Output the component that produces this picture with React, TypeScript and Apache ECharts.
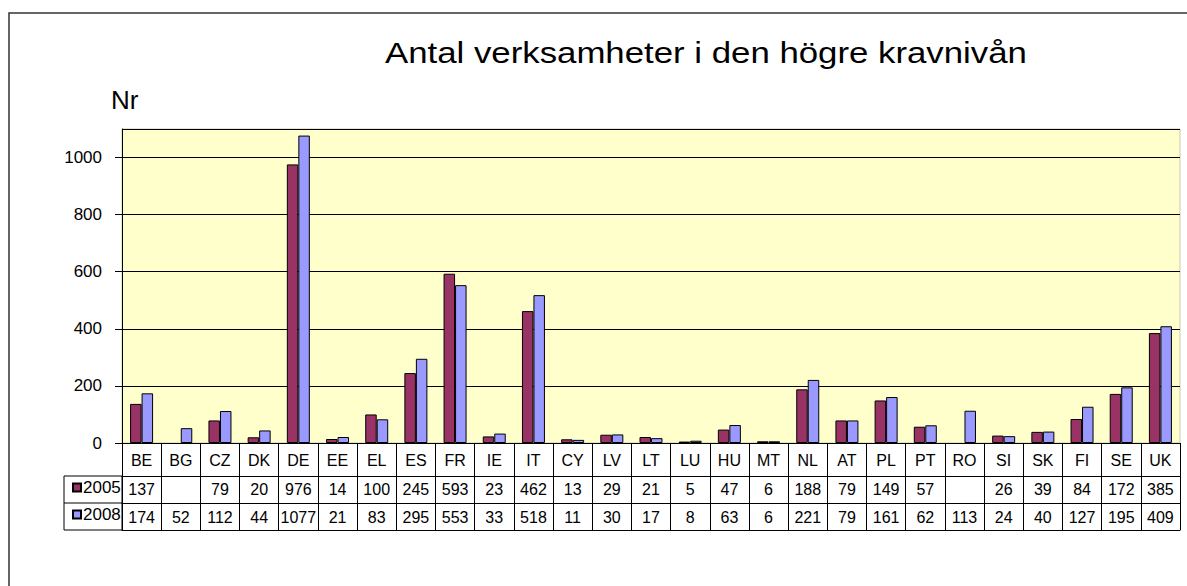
import React, { useEffect, useRef } from "react";
import * as echarts from "echarts";

const categories = ["BE","BG","CZ","DK","DE","EE","EL","ES","FR","IE","IT","CY","LV","LT","LU","HU","MT","NL","AT","PL","PT","RO","SI","SK","FI","SE","UK"];
const values2005: (number | null)[] = [137,null,79,20,976,14,100,245,593,23,462,13,29,21,5,47,6,188,79,149,57,null,26,39,84,172,385];
const values2008: (number | null)[] = [174,52,112,44,1077,21,83,295,553,33,518,11,30,17,8,63,6,221,79,161,62,113,24,40,127,195,409];
const seriesNames = ["2005", "2008"];
const yTicks = [0, 200, 400, 600, 800, 1000];

const FONT = "'Liberation Sans', Arial, sans-serif";

export default function App() {
  const ref = useRef<HTMLDivElement>(null);
  useEffect(() => {
    if (!ref.current) return;
    const chart = echarts.init(ref.current, null, { renderer: "svg" });
    const tableAxis = (offset: number, tickLen: number, margin: number, fmt: (v: string, i: number) => string, showTick = true, showLabel = true) => ({
      type: "category",
      data: categories,
      position: "bottom",
      offset,
      axisLine: { show: true, lineStyle: { color: "#000", width: 1 } },
      axisTick: { show: showTick, length: tickLen, inside: false, lineStyle: { color: "#000", width: 1 } },
      axisLabel: { show: showLabel, interval: 0, margin, color: "#000", fontSize: 16, fontFamily: FONT, formatter: fmt },
      splitLine: { show: false },
    });
    chart.setOption({
      animation: false,
      backgroundColor: "#fff",
      textStyle: { fontFamily: FONT },
      grid: {
        left: 122, right: 7, top: 129, bottom: 143,
        show: true, backgroundColor: "#FFFFCC", borderColor: "#c8c8b0", borderWidth: 1,
      },
      legend: {
        orient: "vertical",
        left: 67, top: 474,
        itemWidth: 8, itemHeight: 8, itemGap: 10,
        icon: "rect",
        textStyle: { fontSize: 17, color: "#000", fontFamily: FONT, padding: [0, 0, 0, -3] },
        data: seriesNames,
      },
      xAxis: [
        tableAxis(0, 33, 9, (v) => v),
        tableAxis(33, 27, 5, (_v, i) => (values2005[i] == null ? "" : String(values2005[i]))),
        tableAxis(60, 27, 6, (_v, i) => (values2008[i] == null ? "" : String(values2008[i]))),
        tableAxis(87, 0, 0, () => "", false, false),
      ],
      yAxis: {
        type: "value",
        min: 0, max: 1100, interval: 200,
        axisLine: { show: true, lineStyle: { color: "#000", width: 1 } },
        axisTick: { show: true, length: 7, lineStyle: { color: "#000" } },
        axisLabel: {
          margin: 20, color: "#000", fontSize: 17, fontFamily: FONT,
          showMaxLabel: false,
          formatter: (v: number) => (yTicks.includes(v) ? String(v) : ""),
        },
        splitLine: { show: true, lineStyle: { color: "#000", width: 1 } },
      },
      series: [
        {
          name: seriesNames[0], type: "bar", data: values2005, barWidth: 11.5, barGap: "0%",
          itemStyle: { color: "#993366", borderColor: "#000", borderWidth: 1 },
        },
        {
          name: seriesNames[1], type: "bar", data: values2008, barWidth: 11.5, barGap: "0%",
          itemStyle: { color: "#9999FF", borderColor: "#000", borderWidth: 1 },
        },
      ],
      graphic: [
        { type: "rect", shape: { x: 9, y: 13, width: 1300, height: 700 }, style: { fill: "none", stroke: "#333", lineWidth: 1.5 }, silent: true },
        { type: "rect", shape: { x: 64, y: 476, width: 58, height: 54 }, style: { fill: "none", stroke: "#000", lineWidth: 1 }, silent: true },
        { type: "line", shape: { x1: 64, y1: 503, x2: 122, y2: 503 }, style: { stroke: "#000", lineWidth: 1 }, silent: true },
        {
          type: "text", x: 385, y: 53, scaleX: 1.2,
          style: { text: "Antal verksamheter i den högre kravnivån", fontSize: 29, fontFamily: FONT, fill: "#000", textAlign: "left", textVerticalAlign: "middle" },
        },
        {
          type: "text", x: 111, y: 100,
          style: { text: "Nr", fontSize: 26, fontFamily: FONT, fill: "#000", textAlign: "left", textVerticalAlign: "middle" },
        },
      ],
    });
    return () => chart.dispose();
  }, []);
  return <div ref={ref} style={{ position: "fixed", left: 0, top: 0, width: 1187, height: 586 }} />;
}
